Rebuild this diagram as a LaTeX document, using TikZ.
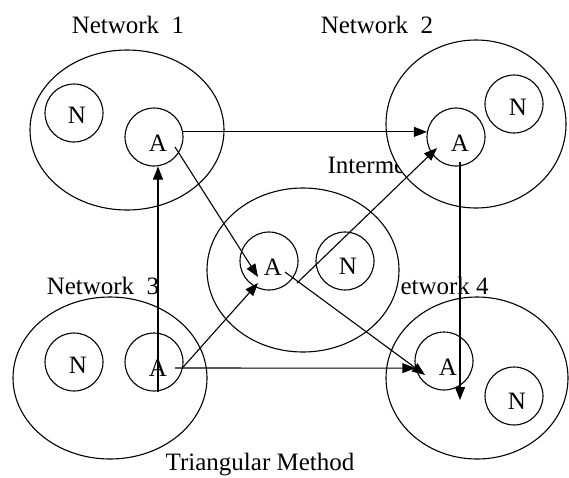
\documentclass[tikz,border=0pt]{standalone}
\usepackage{fontspec}
\setmainfont{Liberation Serif}
\usetikzlibrary{shapes.geometric,arrows.meta}

\begin{document}
\begin{tikzpicture}[x=1pt,y=-1pt,line width=1.1pt,
  net/.style={ellipse,draw,fill=white,inner sep=0pt},
  unit/.style={circle,draw,fill=white,minimum size=58pt,inner sep=0pt},
  lbl/.style={font=\fontsize{25}{30}\selectfont,inner sep=0pt},
  link/.style={-{Triangle[length=13pt,width=10pt]},line width=1.1pt}]
\useasboundingbox (0,0) rectangle (569,477);

% caption of the middle network, partly hidden by network 2
\node[lbl,anchor=west] (capm) at (327,165) {Interme};

% networks
\node[net,minimum width=194pt,minimum height=160pt] (net1) at (127,130) {};
\node[net,minimum width=180pt,minimum height=168pt] (net2) at (476,124) {};
\node[net,minimum width=192pt,minimum height=164pt] (netm) at (303,270) {};
\node[net,minimum width=194pt,minimum height=162pt] (net3) at (110,378) {};
\node[net,minimum width=182pt,minimum height=162pt] (net4) at (477,378) {};

% member nodes
\node[unit] (n1) at (74,113) {};
\node[unit] (a1) at (154,137) {};
\node[unit] (n2) at (514,104) {};
\node[unit] (a2) at (456,137) {};
\node[unit] (am) at (269,261) {};
\node[unit] (nm) at (345,261) {};
\node[unit] (n3) at (74,362) {};
\node[unit] (a3) at (154,362) {};
\node[unit] (a4) at (444,361) {};
\node[unit] (n4) at (514,396) {};

\node[lbl] (n1t) at (77,115) {N};
\node[lbl] (a1t) at (158,143) {A};
\node[lbl] (n2t) at (518,107) {N};
\node[lbl] (a2t) at (460,143) {A};
\node[lbl] (amt) at (273,267) {A};
\node[lbl] (nmt) at (348,266) {N};
\node[lbl] (n3t) at (78,365) {N};
\node[lbl] (a3t) at (158,368) {A};
\node[lbl] (a4t) at (448,367) {A};
\node[lbl] (n4t) at (517,401) {N};

% captions
\node[lbl] (cap1) at (128,25) {Network~~1};
\node[lbl] (cap2) at (377,25) {Network~~2};
\node[lbl] (cap3) at (103,286) {Network~~3};
\node[lbl,anchor=west] (cap4) at (400,286) {etwork 4};
\node[lbl] (title) at (260,465) {Triangular Method};

% links between agents
\draw[link] (a1.10) -- (a2.170);
\draw[link] ([xshift=4pt]a3.south) -- ([xshift=4pt]a1.south);
\draw[link] ([shift={(21,6)}]a3.center) -- (a4.194);
\draw[link] (a3.350) -- ([shift={(-11,22)}]am.center);
\draw[link] ([shift={(21,10)}]a1.center) -- ([shift={(-11,16)}]am.center);
\draw[link] ([shift={(28,22)}]am.center) -- ([shift={(-19,11)}]a2.center);
\draw[link] ([shift={(16,11)}]am.center) -- ([shift={(-19,14)}]a4.center);
\draw[link] ([shift={(4,25)}]a2.center) -- ([shift={(16,39)}]a4.center);
\end{tikzpicture}
\end{document}
